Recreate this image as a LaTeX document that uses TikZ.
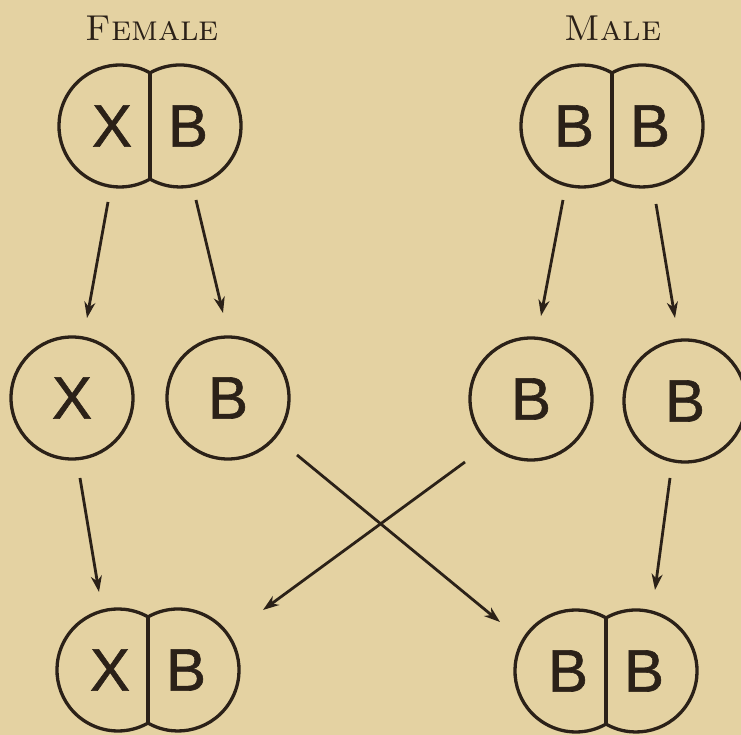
\documentclass[tikz,border=0pt]{standalone}
\usepackage{fontspec}
\newfontfamily\lettersans[FakeBold=1]{Liberation Sans}
\usepackage{tikz}
\usetikzlibrary{arrows.meta, calc}
\definecolor{Paper}{HTML}{E4D2A2}
\definecolor{Ink}{HTML}{2B2118}

% outline of two fused cells, centred at #1
\newcommand{\pairoutline}[1]{%
  \draw[cell] ($(#1)+(0,53.1)$) arc[start angle=60.5, end angle=299.5, radius=61]
      arc[start angle=240.5, end angle=479.5, radius=61] -- cycle;
  \draw[cell] ($(#1)+(0,53.1)$) -- ($(#1)+(0,-53.1)$);
}

\begin{document}
\begin{tikzpicture}[
    x=1pt, y=1pt,
    cell/.style={draw=Ink, line width=3.3pt},
    single/.style={circle, draw=Ink, line width=3.3pt, minimum size=122pt, inner sep=0pt},
    letter/.style={text=Ink, font=\lettersans\fontsize{60}{60}\selectfont, inner sep=0pt},
    head/.style={text=Ink, font=\fontsize{36}{36}\selectfont\addfontfeatures{FakeBold=1.5}\scshape},
    arr/.style={draw=Ink, line width=2.8pt, -{Stealth[length=16pt, width=11pt, inset=5pt]}}
]

\useasboundingbox (0,0) rectangle (741,735);
\fill[Paper] (0,0) rectangle (741,735);

% === PARENTS ===
\node[head] (female) at (152,707) {Female};
\node[head] (male) at (613,707) {Male};

\coordinate (fp) at (150,609);
\node[letter] (fp-l) at ($(fp)+(-38,0)$) {X};
\node[letter] (fp-r) at ($(fp)+(38,0)$) {B};
\pairoutline{fp}

\coordinate (mp) at (612,609);
\node[letter] (mp-l) at ($(mp)+(-38,0)$) {B};
\node[letter] (mp-r) at ($(mp)+(38,0)$) {B};
\pairoutline{mp}

% === GAMETES ===
\node[single, letter] (fx) at (72,337) {X};
\node[single, letter] (fb) at (228,337) {B};
\node[single, letter] (mb1) at (531,336) {B};
\node[single, letter] (mb2) at (685,334) {B};

% === OFFSPRING ===
\coordinate (fc) at (148,65);
\node[letter] (fc-l) at ($(fc)+(-38,0)$) {X};
\node[letter] (fc-r) at ($(fc)+(38,0)$) {B};
\pairoutline{fc}

\coordinate (mc) at (606,64);
\node[letter] (mc-l) at ($(mc)+(-38,0)$) {B};
\node[letter] (mc-r) at ($(mc)+(38,0)$) {B};
\pairoutline{mc}

% splitting
\draw[arr] ($(fp)+(-42,-76)$) -- ($(fx)+(15,80)$);
\draw[arr] ($(fp)+(46,-74)$) -- ($(fb)+(-5,85)$);
\draw[arr] ($(mp)+(-49,-74)$) -- ($(mb1)+(10,83)$);
\draw[arr] ($(mp)+(44,-78)$) -- ($(mb2)+(-10,83)$);

% joining (crossed)
\draw[arr] ($(fx)+(8,-80)$) -- ($(fc)+(-49,78)$);
\draw[arr] ($(mb2)+(-15,-77)$) -- ($(mc)+(49,81)$);
\draw[arr] ($(fb)+(69,-57)$) -- ($(mc)+(-106,49)$);
\draw[arr] ($(mb1)+(-66,-63)$) -- ($(fc)+(115,60)$);

\end{tikzpicture}
\end{document}
